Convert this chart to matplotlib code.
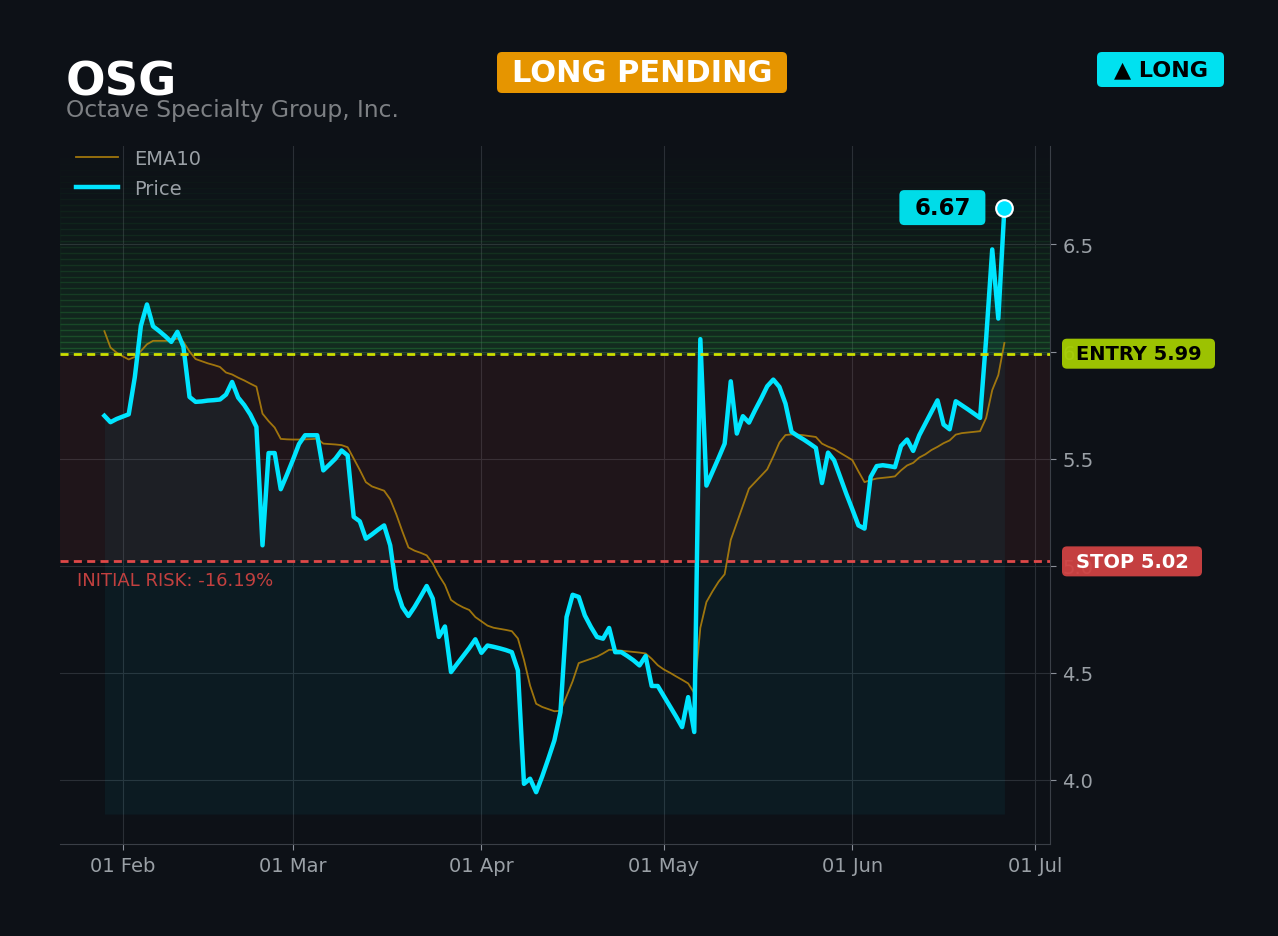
import numpy as np
import pandas as pd
import matplotlib
matplotlib.use('Agg')
import matplotlib.pyplot as plt
import matplotlib.dates as mdates
from matplotlib.patches import FancyBboxPatch
from matplotlib.ticker import MultipleLocator

## Data (one value per calendar day)
ticker = "OSG"
company = "Octave Specialty Group, Inc."
status = "LONG PENDING"
side = "\u25b2 LONG"
entry = 5.99
stop = 5.02

dates = pd.date_range("2025-01-29", "2025-06-26", freq="D")

price = [
    5.70, 5.67, 5.685, 5.696, 5.707, 5.88, 6.12, 6.22, 6.118, 6.096,
    6.072, 6.045, 6.092, 6.022, 5.788, 5.765, 5.767, 5.771, 5.773, 5.776,
    5.799, 5.858, 5.785, 5.75, 5.706, 5.648, 5.095, 5.526, 5.526, 5.357,
    5.424, 5.494, 5.568, 5.609, 5.609, 5.609, 5.445, 5.472, 5.50, 5.538,
    5.515, 5.228, 5.207, 5.126, 5.146, 5.168, 5.188, 5.095, 4.893, 4.807,
    4.765, 4.807, 4.855, 4.905, 4.846, 4.667, 4.716, 4.503, 4.541, 4.578,
    4.615, 4.656, 4.593, 4.627, 4.621, 4.614, 4.606, 4.596, 4.511, 3.981,
    4.005, 3.942, 4.016, 4.098, 4.184, 4.316, 4.760, 4.864, 4.854, 4.768,
    4.714, 4.667, 4.659, 4.709, 4.596, 4.596, 4.578, 4.558, 4.534, 4.578,
    4.438, 4.438, 4.391, 4.344, 4.296, 4.246, 4.386, 4.223, 6.058, 5.374,
    5.438, 5.503, 5.570, 5.861, 5.617, 5.698, 5.668, 5.726, 5.780, 5.838,
    5.869, 5.835, 5.757, 5.625, 5.606, 5.589, 5.570, 5.550, 5.386, 5.528,
    5.492, 5.414, 5.336, 5.263, 5.188, 5.173, 5.414, 5.465, 5.469, 5.465,
    5.460, 5.559, 5.589, 5.536, 5.609, 5.664, 5.718, 5.772, 5.659, 5.637,
    5.768, 5.749, 5.730, 5.710, 5.690, 6.06, 6.477, 6.154, 6.67,
]

ema10 = [
    6.095, 6.019, 5.995, 5.978, 5.963, 5.975, 6.002, 6.034, 6.05, 6.05,
    6.05, 6.052, 6.061, 6.045, 6.00, 5.965, 5.955, 5.945, 5.937, 5.928,
    5.902, 5.893, 5.878, 5.865, 5.85, 5.836, 5.71, 5.675, 5.645, 5.592,
    5.590, 5.589, 5.589, 5.590, 5.591, 5.593, 5.570, 5.568, 5.566, 5.563,
    5.553, 5.50, 5.447, 5.39, 5.37, 5.36, 5.35, 5.31, 5.24, 5.16,
    5.085, 5.07, 5.06, 5.048, 5.01, 4.955, 4.91, 4.84, 4.82, 4.805,
    4.793, 4.76, 4.74, 4.72, 4.71, 4.705, 4.70, 4.694, 4.66, 4.56,
    4.44, 4.355, 4.34, 4.33, 4.32, 4.322, 4.39, 4.46, 4.545, 4.555,
    4.565, 4.575, 4.59, 4.607, 4.606, 4.603, 4.600, 4.597, 4.594, 4.590,
    4.565, 4.535, 4.515, 4.50, 4.483, 4.467, 4.45, 4.405, 4.71, 4.83,
    4.88, 4.925, 4.96, 5.12, 5.20, 5.28, 5.36, 5.39, 5.42, 5.45,
    5.51, 5.575, 5.61, 5.613, 5.612, 5.609, 5.605, 5.601, 5.57, 5.556,
    5.545, 5.527, 5.51, 5.493, 5.44, 5.39, 5.40, 5.407, 5.41, 5.413,
    5.417, 5.445, 5.468, 5.48, 5.505, 5.52, 5.54, 5.555, 5.572, 5.585,
    5.612, 5.619, 5.622, 5.625, 5.628, 5.69, 5.82, 5.89, 6.04,
]

## Style
BG = "#0d1117"
CYAN = "#00e5ff"
GRAY = "#9aa0a6"
W, H = 1278, 937

fig = plt.figure(figsize=(W / 100, H / 100), dpi=100, facecolor=BG)
ax = fig.add_axes([60 / W, 1 - 845 / H, 990 / W, 698 / H])
ax.set_facecolor(BG)

ymin, ymax = 3.70, 6.96
ax.set_ylim(ymin, ymax)
ax.set_xlim(dates[0] - pd.Timedelta(days=7.3), dates[-1] + pd.Timedelta(days=7.5))

# target zone above entry (striped green fade)
n = 35
h = (ymax - entry) / n
for k in range(n):
    ax.axhspan(entry + k * h, entry + (k + 1) * h, color="#2ea043",
               alpha=0.19 * (1 - k / n) ** 1.4, lw=1, zorder=0.6)

# risk zone between stop and entry
ax.axhspan(stop, entry, color="#d94040", alpha=0.09, lw=0, zorder=0.6)

# area under the price
ax.fill_between(dates, price, 3.84, color=CYAN, alpha=0.05, lw=0, zorder=1)

ax.plot(dates, ema10, color="#b8860b", lw=1.3, alpha=0.85, label="EMA10", zorder=3)
ax.plot(dates, price, color=CYAN, lw=3.2, label="Price", zorder=4)
ax.plot(dates[-1], price[-1], "o", ms=12, mfc=CYAN, mec="white", mew=1.5, zorder=6)

ax.axhline(entry, color="#cde000", lw=2, ls=(0, (2.9, 1.9)), zorder=5)
ax.axhline(stop, color="#e04848", lw=2, ls=(0, (2.9, 1.9)), zorder=5)

risk = (stop - entry) / entry * 100
ax.annotate(f"INITIAL RISK: {risk:.2f}%", xy=(0.017, stop),
            xycoords=("axes fraction", "data"), xytext=(0, -7),
            textcoords="offset points", va="top", ha="left",
            color="#c2403f", fontsize=13)

# axes cosmetics
ax.grid(True, color="#2a2f36", lw=0.8)
ax.set_axisbelow(True)
for s in ["left", "top"]:
    ax.spines[s].set_visible(False)
for s in ["bottom", "right"]:
    ax.spines[s].set_color("#3a3f47")
ax.yaxis.tick_right()
ax.yaxis.set_major_locator(MultipleLocator(0.5))
ax.xaxis.set_major_locator(mdates.MonthLocator())
ax.xaxis.set_major_formatter(mdates.DateFormatter("%d %b"))
ax.tick_params(colors="#8b9099", labelcolor=GRAY, labelsize=14, length=4, pad=5)

ax.legend(loc="upper left", frameon=False, fontsize=14, labelcolor=GRAY,
          handlelength=2.2, borderaxespad=0.4, labelspacing=0.55,
          bbox_to_anchor=(0.0, 1.018))

# header texts
fig.text(66 / W, 1 - 95 / H, ticker, fontsize=33.5, weight="bold", color="white", va="baseline")
fig.text(66 / W, 1 - 117 / H, company, fontsize=16.8, color="#7d8084", va="baseline")


def px_box(x0, y0, x1, y1, color, text, tcolor, fs, alpha=1.0):
    """box given in pixel coords measured from the top-left of the figure"""
    tr = fig.dpi_scale_trans
    patch = FancyBboxPatch((x0 / 100, (H - y1) / 100), (x1 - x0) / 100, (y1 - y0) / 100,
                           boxstyle="round,pad=0,rounding_size=0.05",
                           transform=tr, facecolor=color, edgecolor="none",
                           alpha=alpha, zorder=10)
    fig.patches.append(patch)
    fig.text((x0 + x1) / 200, (H - (y0 + y1) / 2) / 100, text, transform=tr,
             ha="center", va="center", fontsize=fs, weight="bold", color=tcolor, zorder=11)


def y_px(val):
    return H - ax.transData.transform((mdates.date2num(dates[0]), val))[1]


px_box(497, 53, 787, 94, "#e69500", status, "white", 22)
px_box(1097, 53, 1224, 88, "#00e1f0", side, "black", 16)

ye = y_px(entry)
px_box(1062, ye - 15, 1215, ye + 15, "#a6ce00", f"ENTRY {entry:.2f}", "black", 14, alpha=0.94)
ys = y_px(stop)
px_box(1062, ys - 15, 1202, ys + 15, "#d14343", f"STOP {stop:.2f}", "white", 14, alpha=0.94)

lx, ly = ax.transData.transform((mdates.date2num(dates[-1]), price[-1]))
ly = H - ly
px_box(lx - 105, ly - 18, lx - 19, ly + 17, "#00dce8", f"{price[-1]:.2f}", "black", 16.5)

fig.savefig("out.png", dpi=100, facecolor=BG)
